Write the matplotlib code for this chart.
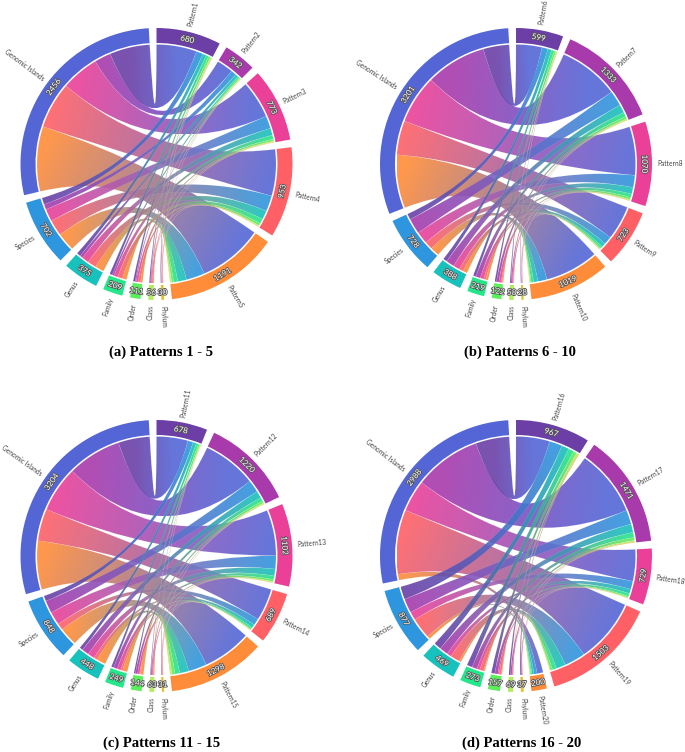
import matplotlib
matplotlib.use('Agg')
import matplotlib.pyplot as plt
import numpy as np
from matplotlib.colors import to_rgb
from matplotlib.patches import PathPatch, Wedge
from matplotlib.path import Path
import matplotlib.patheffects as pe

W, H = 685, 752

# columnas de taxonomia, en el orden de las filas de abajo
taxa = ['Genomic Islands', 'Species', 'Genus', 'Family', 'Order', 'Class', 'Phylum']

patterns_a = ['Pattern1', 'Pattern2', 'Pattern3', 'Pattern4', 'Pattern5']
values_a = [[480, 80, 45, 32, 23, 13, 7],
            [197, 62, 35, 22, 12, 9, 5],
            [450, 150, 85, 47, 24, 11, 6],
            [555, 190, 105, 58, 28, 11, 6],
            [774, 220, 105, 50, 24, 12, 6]]

patterns_b = ['Pattern6', 'Pattern7', 'Pattern8', 'Pattern9', 'Pattern10']
values_b = [[373, 85, 55, 40, 25, 14, 7],
            [870, 222, 118, 65, 35, 16, 7],
            [698, 175, 95, 50, 32, 14, 6],
            [492, 115, 58, 30, 16, 8, 4],
            [768, 131, 62, 34, 14, 6, 4]]

patterns_c = ['Pattern11', 'Pattern12', 'Pattern13', 'Pattern14', 'Pattern15']
values_c = [[475, 80, 50, 35, 22, 10, 6],
            [814, 190, 105, 58, 32, 14, 7],
            [692, 200, 105, 55, 30, 14, 6],
            [486, 100, 52, 28, 14, 6, 3],
            [737, 278, 136, 73, 46, 19, 9]]

patterns_d = ['Pattern16', 'Pattern17', 'Pattern18', 'Pattern19', 'Pattern20']
values_d = [[497, 190, 110, 80, 50, 25, 15],
            [985, 210, 125, 75, 45, 20, 11],
            [468, 120, 65, 42, 20, 10, 4],
            [950, 310, 140, 60, 30, 10, 3],
            [88, 47, 29, 16, 12, 4, 4]]

captions = ['(a) Patterns 1 - 5', '(b) Patterns 6 - 10',
            '(c) Patterns 11 - 15', '(d) Patterns 16 - 20']

# colores alrededor del circulo, empezando en el primer patron
ring_colors = ['#6B3FA6', '#A83AAC', '#EA4098', '#FF6066', '#FF8C38', '#E2C232',
               '#B4EE60', '#5CEF5C', '#24E68A', '#18C2BC', '#2E96DE', '#5466D6']

R_OUT = 136
R_IN = 121
R_RIB = 119.5
GAP = 3.27


def polar(r, deg):
    a = np.radians(deg)
    return r * np.sin(a), r * np.cos(a)


def arc(r, a0, a1):
    n = max(int(abs(a1 - a0) / 2) + 2, 3)
    return [polar(r, a) for a in np.linspace(a0, a1, n)]


def ribbon_path(a0, a1, b0, b1):
    # arco origen, curva por el centro, arco destino, curva de vuelta
    verts = arc(R_RIB, a0, a1)
    codes = [Path.MOVETO] + [Path.LINETO] * (len(verts) - 1)
    target = arc(R_RIB, b0, b1)
    verts += [(0, 0), target[0]]
    codes += [Path.CURVE3, Path.CURVE3]
    verts += target[1:]
    codes += [Path.LINETO] * (len(target) - 1)
    verts += [(0, 0), verts[0]]
    codes += [Path.CURVE3, Path.CURVE3]
    return Path(verts, codes)


def draw_ribbon(ax, path, p_from, p_to, c_from, c_to):
    # degradado lineal recortado con la forma de la cinta
    box = path.get_extents()
    nx = max(int(box.width * 2), 2)
    ny = max(int(box.height * 2), 2)
    xs = np.linspace(box.x0, box.x1, nx)
    ys = np.linspace(box.y0, box.y1, ny)
    gx, gy = np.meshgrid(xs, ys)
    d = np.array(p_to) - np.array(p_from)
    t = ((gx - p_from[0]) * d[0] + (gy - p_from[1]) * d[1]) / (d @ d)
    t = np.clip(t, 0, 1)[..., None]
    img = np.array(to_rgb(c_from)) * (1 - t) + np.array(to_rgb(c_to)) * t
    patch = PathPatch(path, transform=ax.transData, facecolor='none', edgecolor='none')
    ax.add_patch(patch)
    im = ax.imshow(img, extent=(box.x0, box.x1, box.y0, box.y1), origin='lower',
                   interpolation='bilinear', aspect='auto', alpha=0.9, zorder=2)
    im.set_clip_path(patch)
    ax.add_patch(PathPatch(path, facecolor='none', edgecolor='white', alpha=0.25,
                           linewidth=0.2, zorder=2))


def chord(ax, patterns, values):
    m = np.array(values)
    names = patterns + taxa[::-1]
    # anillo: patrones y luego taxonomia al reves
    totals = list(m.sum(axis=1)) + list(m.sum(axis=0)[::-1])
    scale = (360 - GAP * len(totals)) / sum(totals)
    colors = {n: c for n, c in zip(names, ring_colors)}

    starts = {}
    pos = 0
    for name, tot in zip(names, totals):
        starts[name] = pos
        a0, a1 = pos, pos + tot * scale
        ax.add_patch(Wedge((0, 0), R_OUT, 90 - a1, 90 - a0, width=R_OUT - R_IN,
                           facecolor=colors[name], edgecolor='none', zorder=3))
        mid = (a0 + a1) / 2
        rot = 180 - mid if 90 < mid < 270 else -mid
        ax.text(*polar((R_OUT + R_IN) / 2, mid), str(tot), color='white', fontsize=5.8,
                family=['Lato', 'DejaVu Sans'], rotation=rot, rotation_mode='anchor',
                ha='center', va='center', zorder=5,
                path_effects=[pe.withStroke(linewidth=1.2, foreground='#555555')])
        if mid < 180:
            ha, lab_rot = 'left', 90 - mid
        else:
            ha, lab_rot = 'right', 270 - mid
        ax.text(*polar(R_OUT + 5.5, mid), name, color='#444444', fontsize=4.8,
                family=['Lato', 'DejaVu Sans'], rotation=lab_rot, rotation_mode='anchor',
                ha=ha, va='center', zorder=5)
        pos = a1 + GAP

    # posicion de cada cinta dentro de su sector
    p_edges = {}
    for i, p in enumerate(patterns):
        cur = starts[p]
        for j in range(len(taxa)):
            p_edges[(i, j)] = (cur, cur + m[i, j] * scale)
            cur += m[i, j] * scale
    t_edges = {}
    for j, t in enumerate(taxa):
        cur = starts[t]
        for i in range(len(patterns) - 1, -1, -1):
            t_edges[(i, j)] = (cur, cur + m[i, j] * scale)
            cur += m[i, j] * scale

    for i in range(len(patterns) - 1, -1, -1):
        for j in range(len(taxa)):
            a0, a1 = p_edges[(i, j)]
            b0, b1 = t_edges[(i, j)]
            path = ribbon_path(a0, a1, b0, b1)
            draw_ribbon(ax, path, polar(R_RIB, (a0 + a1) / 2), polar(R_RIB, (b0 + b1) / 2),
                        colors[taxa[j]], colors[patterns[i]])


fig = plt.figure(figsize=(W / 100, H / 100), dpi=100)
centers = [(156.5, 164), (516, 164), (156.5, 556), (516, 556)]
caption_xy = [(161, 352), (520, 352), (162, 743), (522, 743)]
panels = [(patterns_a, values_a), (patterns_b, values_b),
          (patterns_c, values_c), (patterns_d, values_d)]

for (cx, cy), (pats, vals) in zip(centers, panels):
    ax = fig.add_axes([(cx - 170) / W, 1 - (cy + 170) / H, 340 / W, 340 / H])
    chord(ax, pats, vals)
    ax.set_xlim(-170, 170)
    ax.set_ylim(-170, 170)
    ax.axis('off')

for (x, y), cap in zip(caption_xy, captions):
    fig.text(x / W, 1 - y / H, cap, family='Liberation Serif', fontweight='bold',
             fontsize=10.5, ha='center', va='center', color='black')

fig.savefig('out.png', dpi=100)
